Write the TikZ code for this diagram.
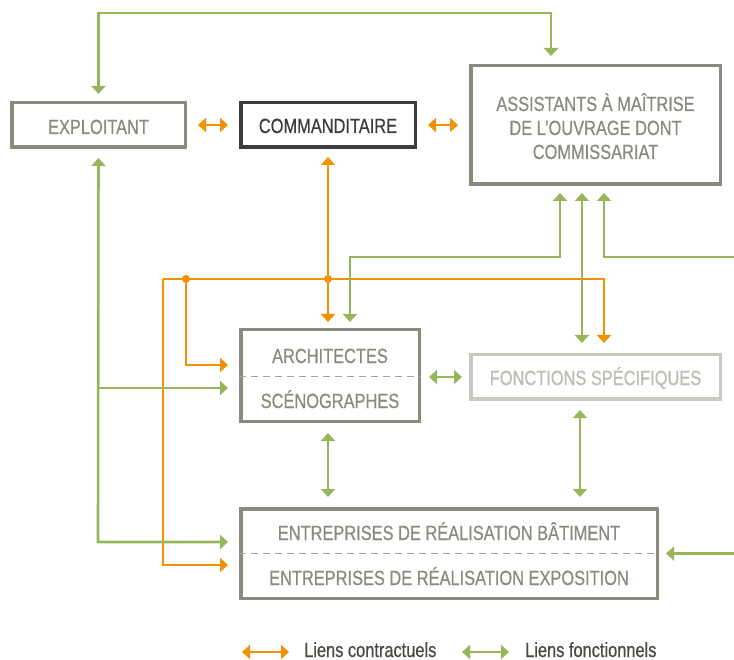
\documentclass[tikz,border=0pt]{standalone}
\usepackage{fontspec}
\setmainfont[FakeStretch=0.8,FakeBold=0.6]{Liberation Sans}
\usetikzlibrary{arrows.meta}
\definecolor{og}{HTML}{F39200}
\definecolor{gn}{HTML}{97B65A}
\definecolor{bx}{HTML}{8A8B7E}
\definecolor{bxl}{HTML}{C8C9C1}
\definecolor{txl}{HTML}{BBBCB3}
\definecolor{dk}{HTML}{3C3C3C}
\definecolor{dashc}{HTML}{A3A49B}
\definecolor{legt}{HTML}{4A4A45}
\begin{document}
\begin{tikzpicture}[x=1pt,y=-1pt,
  font=\fontsize{20.5}{24}\selectfont,
  >={Triangle[width=14pt,length=8pt]},
  box/.style={draw=bx, line width=3.5pt, inner sep=0pt},
  lbl/.style={text=bx, inner sep=0pt, anchor=base},
  oline/.style={draw=og, line width=2.6pt},
  gline/.style={draw=gn, line width=2.6pt},
  divider/.style={draw=dashc, line width=1pt, dash pattern=on 7pt off 5pt},
  hs/.style={shorten <=11pt, shorten >=11pt},
  dot/.style={circle, fill=og, inner sep=0pt, minimum size=8pt}
]
\useasboundingbox (0,0) rectangle (734,660);

% boxes
\node[box, minimum width=173.5pt, minimum height=44.5pt] (expl) at (98.5,125) {};
\node[box, draw=dk, minimum width=174.5pt, minimum height=44.5pt] (comm) at (328,125) {};
\node[box, minimum width=249.5pt, minimum height=118.5pt] (assist) at (595.5,125) {};
\node[box, minimum width=178.5pt, minimum height=91.5pt] (archi) at (330,375.5) {};
\node[box, draw=bxl, minimum width=249.5pt, minimum height=44.5pt] (fonct) at (595.5,377) {};
\node[box, minimum width=416.5pt, minimum height=89.5pt] (entr) at (449,553.5) {};

% dividers
\draw[divider] (archi.west |- 0,376.5) -- (archi.east |- 0,376.5);
\draw[divider] (entr.west |- 0,553.5) -- (entr.east |- 0,553.5);

% labels
\node[lbl] (explT) at (98.5,134) {EXPLOITANT};
\node[lbl, text=dk] (commT) at (328,133) {COMMANDITAIRE};
\node[lbl] (assT1) at (595.5,111) {ASSISTANTS À MAÎTRISE};
\node[lbl] (assT2) at (595.5,135) {DE L’OUVRAGE DONT};
\node[lbl] (assT3) at (595.5,159) {COMMISSARIAT};
\node[lbl] (archT1) at (330,363) {ARCHITECTES};
\node[lbl] (archT2) at (330,408) {SCÉNOGRAPHES};
\node[lbl, text=txl] (fonctT) at (595.5,385) {FONCTIONS SPÉCIFIQUES};
\node[lbl] (entrT1) at (449,540) {ENTREPRISES DE RÉALISATION BÂTIMENT};
\node[lbl] (entrT2) at (449,585) {ENTREPRISES DE RÉALISATION EXPOSITION};

% coordinates
\coordinate (gtop) at (551,13);
\coordinate (obus) at (163,279);
\coordinate (od1) at (186,279);
\coordinate (od2) at (328,279);
\coordinate (obr) at (604,279);
\coordinate (gmid) at (560,257);
\coordinate (gmidl) at (350,257);
\coordinate (gright) at (734,257);
\coordinate (gri) at (604,257);
\coordinate (gleft) at (98,542);
\coordinate (gbr) at (98,388);
\coordinate (gent) at (734,553.5);
\coordinate (lo1) at (242,652);
\coordinate (lo2) at (289,652);
\coordinate (lg1) at (462,652);
\coordinate (lg2) at (509,652);

% orange contractual links
\draw[oline, <->, hs] (expl.east) -- (comm.west);
\draw[oline, <->, hs] (comm.east) -- (assist.west);
\draw[oline, <->, shorten <=8pt, shorten >=6pt] (comm.south) -- (comm.south |- archi.north);
\draw[oline, ->, shorten >=10pt] (obus) -- (obr) -- (obr |- fonct.north);
\draw[oline, ->, shorten >=11pt] (obus) |- (entr.west |- 0,565);
\draw[oline, ->, shorten >=11pt] (od1) |- (archi.west |- 0,365);
\node[dot] (dot1) at (od1) {};
\node[dot] (dot2) at (od2) {};

% green functional links
\draw[gline, <->, shorten <=7pt, shorten >=8pt] (expl.north) |- (gtop) -- (gtop |- assist.north);
\draw[gline, <->, shorten <=7pt, shorten >=6pt] (gmid |- assist.south) -- (gmid) -- (gmidl) -- (gmidl |- archi.north);
\draw[gline, <->, shorten <=7pt, shorten >=10pt] (582,0 |- assist.south) -- (582,0 |- fonct.north);
\draw[gline, ->, shorten >=7pt] (gright) -- (gri) -- (gri |- assist.south);
\draw[gline, <->, shorten <=9pt, shorten >=11pt] (expl.south) -- (gleft) -- (entr.west |- gleft);
\draw[gline, ->, shorten >=11pt] (gbr) -- (archi.west |- gbr);
\draw[gline, <->, shorten <=8pt, shorten >=7pt] (archi.east |- fonct.west) -- (fonct.west);
\draw[gline, <->, shorten <=10pt, shorten >=10pt] (328,0 |- archi.south) -- (328,0 |- entr.north);
\draw[gline, <->, shorten <=9pt, shorten >=10pt] (580,0 |- fonct.south) -- (580,0 |- entr.north);
\draw[gline, ->, shorten >=7pt] (gent) -- (entr.east);

% legend
\draw[oline, <->] (lo1) -- (lo2);
\draw[gline, <->] (lg1) -- (lg2);
\node[lbl, text=legt, anchor=base west] (legO) at (304,657) {Liens contractuels};
\node[lbl, text=legt, anchor=base west] (legG) at (525,657) {Liens fonctionnels};
\end{tikzpicture}
\end{document}
